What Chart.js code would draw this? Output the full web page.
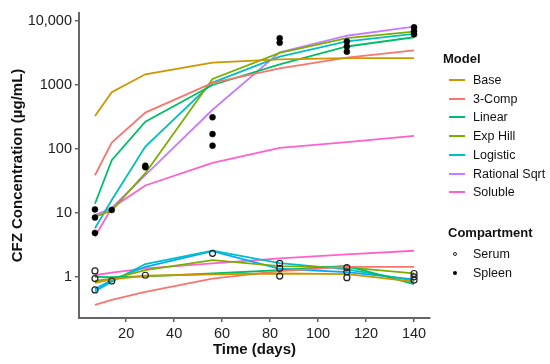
<!DOCTYPE html>
<html>
<head>
<meta charset="utf-8">
<script src="https://cdn.jsdelivr.net/npm/chart.js@4"></script>
<style>
  html, body { margin: 0; padding: 0; background: #fff; }
  #wrap { position: relative; width: 550px; height: 364px; font-family: "Liberation Sans", Arial, sans-serif; }
  canvas { position: absolute; left: 0; top: 0; }
  .lg { position: absolute; color: #111; font-size: 12.5px; line-height: 14px; white-space: nowrap; }
  .lt { position: absolute; color: #111; font-size: 13px; font-weight: bold; line-height: 15px; white-space: nowrap; }
  .key { position: absolute; width: 16px; height: 2px; }
  .dot { position: absolute; width: 4px; height: 4px; border-radius: 50%; box-sizing: border-box; }
</style>
</head>
<body>
<div id="wrap">
  <canvas id="c" width="550" height="364"></canvas>
  <div id="legend"></div>
</div>
<script>
// ---- data ----
const days = [7, 14, 28, 56, 84, 112, 140];
const modelNames = ["Base", "3-Comp", "Linear", "Exp Hill", "Logistic", "Rational Sqrt", "Soluble"];
const modelColors = ["#CD9600", "#F8766D", "#00BE67", "#7CAE00", "#00BFC4", "#C77CFF", "#FF61CC"];

// spleen model predictions
const baseSpleen      = [328, 770, 1470, 2240, 2510, 2620, 2620];
const threeCompSpleen = [39, 126, 370, 1080, 1820, 2680, 3460];
const linearSpleen    = [14, 67, 267, 1000, 2100, 3990, 5560];
const expHillSpleen   = [8.7, 11, 42, 1240, 3180, 5370, 6790];
const logisticSpleen  = [5.8, 16, 109, 1090, 2770, 4780, 6280];
const ratSqrtSpleen   = [9.3, 12, 39, 410, 3240, 5870, 8130];
const solubleSpleen   = [4.3, 12, 27, 61, 104, 128, 160];

// serum model predictions
const baseSerum      = [0.81, 0.92, 1.05, 1.10, 1.14, 1.11, 0.85];
const threeCompSerum = [0.37, 0.44, 0.59, 0.95, 1.24, 1.45, 1.45];
const linearSerum    = [1.01, 1.00, 1.03, 1.14, 1.29, 1.50, 0.78];
const expHillSerum   = [0.87, 0.95, 1.29, 1.84, 1.49, 1.42, 1.14];
const logisticSerum  = [0.60, 0.85, 1.60, 2.60, 1.65, 1.32, 0.88];
const extraSerum     = [0.65, 0.90, 1.45, 2.55, 1.35, 1.20, 0.92];
const solubleSerum   = [1.07, 1.18, 1.37, 1.64, 1.96, 2.26, 2.58];

// observations
const spleenObsDays   = [7, 7, 7, 14, 28, 28, 56, 56, 56, 84, 84, 112, 112, 112, 140, 140, 140];
const spleenObsValues = [11.4, 8.5, 4.9, 11.2, 52, 55, 313, 171, 113, 5370, 4570, 4780, 3990, 3310, 7940, 6920, 6170];
const serumObsDays    = [7, 7, 7, 14, 28, 56, 84, 84, 84, 112, 112, 112, 140, 140, 140];
const serumObsValues  = [1.25, 0.95, 0.63, 0.87, 1.07, 2.35, 1.64, 1.37, 1.04, 1.41, 1.21, 0.98, 1.14, 1.01, 0.90];

const yTicks = [1, 10, 100, 1000, 10000];
const yTickLabels = ["1", "10", "100", "1000", "10,000"];
const xTicks = [20, 40, 60, 80, 100, 120, 140];

// ---- build datasets ----
const spleenSeries = [baseSpleen, threeCompSpleen, linearSpleen, expHillSpleen, logisticSpleen, ratSqrtSpleen, solubleSpleen];
const serumSeries = [baseSerum, threeCompSerum, linearSerum, expHillSerum, logisticSerum, null, solubleSerum];
const pts = (xs, ys) => xs.map((x, i) => ({x: x, y: ys[i]}));

const datasets = [];
datasets.push({ label: "Spleen", type: "scatter", data: pts(spleenObsDays, spleenObsValues),
  pointRadius: 3, pointBackgroundColor: "#000", pointBorderColor: "#000", pointBorderWidth: 0.5, showLine: false, order: 0 });
datasets.push({ label: "Serum", type: "scatter", data: pts(serumObsDays, serumObsValues),
  pointRadius: 3, pointBackgroundColor: "rgba(255,255,255,0)", pointBorderColor: "#222", pointBorderWidth: 1.2, showLine: false, order: 0 });
modelNames.forEach((name, k) => {
  datasets.push({ label: name + " spleen", data: pts(days, spleenSeries[k]), borderColor: modelColors[k],
    borderWidth: 1.8, pointRadius: 0, tension: 0, fill: false, order: 1 + k });
  if (serumSeries[k]) datasets.push({ label: name + " serum", data: pts(days, serumSeries[k]), borderColor: modelColors[k],
    borderWidth: 1.8, pointRadius: 0, tension: 0, fill: false, order: 1 + k });
});
datasets.push({ label: "extra serum", data: pts(days, extraSerum), borderColor: "#00A9FF",
  borderWidth: 1.8, pointRadius: 0, tension: 0, fill: false, order: 5 });

const axisColor = "#666";
new Chart(document.getElementById("c"), {
  type: "line",
  data: { datasets: datasets },
  options: {
    responsive: false, animation: false, devicePixelRatio: 1,
    layout: { padding: { top: 13, right: 120, left: 0, bottom: 0 } },
    plugins: { legend: { display: false }, tooltip: { enabled: false } },
    scales: {
      x: {
        type: "linear", min: 0.35, max: 146.65,
        afterBuildTicks: s => { s.ticks = xTicks.map(v => ({value: v})); },
        afterFit: s => { s.height = 46; },
        grid: { display: true, drawOnChartArea: false, drawTicks: true, tickLength: 4, color: axisColor, lineWidth: 1.5 },
        border: { display: true, color: axisColor, width: 2 },
        ticks: { color: "#222", font: { family: "Liberation Sans", size: 14.5 }, padding: 3, maxRotation: 0 },
        title: { display: true, text: "Time (days)", color: "#111", font: { family: "Liberation Sans", size: 15, weight: "bold" }, padding: { top: 0, bottom: 5 } }
      },
      y: {
        type: "logarithmic", min: 0.23, max: 13300,
        afterBuildTicks: s => { s.ticks = yTicks.map(v => ({value: v})); },
        afterFit: s => { s.width = 79; },
        grid: { display: true, drawOnChartArea: false, drawTicks: true, tickLength: 4, color: axisColor, lineWidth: 1.5 },
        border: { display: true, color: axisColor, width: 2 },
        ticks: { color: "#222", font: { family: "Liberation Sans", size: 14.5 }, padding: 3,
          callback: (v) => { const i = yTicks.indexOf(v); return i >= 0 ? yTickLabels[i] : ""; } },
        title: { display: true, text: "CFZ Concentration (µg/mL)", color: "#111", font: { family: "Liberation Sans", size: 15, weight: "bold" }, padding: { top: 9, bottom: 0 } }
      }
    }
  }
});

// ---- legend (HTML) ----
const lg = document.getElementById("legend");
function add(html) { lg.insertAdjacentHTML("beforeend", html); }
const rowY0 = 80, rowStep = 18.7;
add(`<div class="lt" style="left:443px;top:${58 - 7.5}px">Model</div>`);
modelNames.forEach((name, k) => {
  const y = rowY0 + k * rowStep;
  add(`<div class="key" style="left:449px;top:${y - 1}px;background:${modelColors[k]}"></div>`);
  add(`<div class="lg" style="left:473px;top:${y - 7}px">${name}</div>`);
});
add(`<div class="lt" style="left:448px;top:${232 - 7.5}px">Compartment</div>`);
add(`<div class="dot" style="left:453px;top:252px;border:1px solid #222;background:#fff"></div>`);
add(`<div class="lg" style="left:473px;top:${254 - 7}px">Serum</div>`);
add(`<div class="dot" style="left:453px;top:271px;background:#000"></div>`);
add(`<div class="lg" style="left:473px;top:${273 - 7}px">Spleen</div>`);
</script>
</body>
</html>
